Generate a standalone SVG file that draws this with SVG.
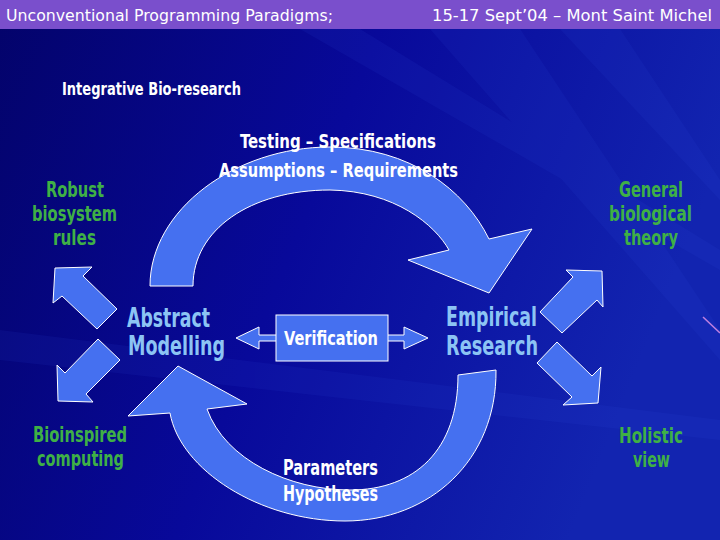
<svg xmlns="http://www.w3.org/2000/svg" width="720" height="540" viewBox="0 0 720 540">
<defs>
<linearGradient id="bg" x1="0" y1="0" x2="1" y2="0.3">
<stop offset="0" stop-color="#03036a"/>
<stop offset="0.5" stop-color="#08099a"/>
<stop offset="1" stop-color="#1224b0"/>
</linearGradient>
<style>
.arr{fill:#4570f0;stroke:#ffffff;stroke-width:1;stroke-linejoin:miter}
.t{font-family:"DejaVu Sans Condensed","DejaVu Sans",sans-serif;font-weight:bold}
.w{fill:#ffffff}
.g{fill:#3fb046;font-size:21px;text-anchor:start}
.lb{fill:#8cc4f4;font-size:26px}
.hd{font-family:"DejaVu Sans","Liberation Sans",sans-serif;font-size:15px;fill:#ffffff}
</style>
</defs>
<rect width="720" height="540" fill="url(#bg)"/>
<g id="streaks" fill="#3050e0" opacity="0.1">
<polygon points="430,29 520,29 720,330 720,360"/>
<polygon points="300,29 360,29 720,250 720,270"/>
<polygon points="0,330 720,420 720,440 0,360"/>
<polygon points="560,29 620,29 720,180 720,200"/>
</g>
<line x1="703" y1="317" x2="720" y2="333" stroke="#c080e0" stroke-width="1.5"/>
<g id="header">
<rect x="0" y="0" width="720" height="29" fill="#7a4fcc"/>
<text class="hd" x="6" y="21" textLength="327" lengthAdjust="spacingAndGlyphs">Unconventional Programming Paradigms;</text>
<text class="hd" x="432" y="21" textLength="280" lengthAdjust="spacingAndGlyphs">15-17 Sept’04 – Mont Saint Michel</text>
</g>
<g id="title">
<text class="t w" x="62" y="95" font-size="18" textLength="179" lengthAdjust="spacingAndGlyphs">Integrative Bio-research</text>
</g>
<g id="connectors">
<path id="arc-top" class="arr" d="M150,286 C150,210 235,147 330,147 C410,147 465,190 489,239 L532,229 L489,293 L408,260 L449,250 C435,225 395,191 330,190 C250,190 193,230 193,286 Z"/>
<path id="arc-bottom" class="arr" d="M496,370 C497,460 430,521 345,521 C260,521 180,470 170,413 L128,416 L178,366 L247,404 L207,409 C225,460 290,490 350,490 C415,490 458,450 458,375 Z"/>
<polygon id="arrow-verif" class="arr" points="236,338 259,327 259,335 404,335 404,327 428,338 404,349 404,341 259,341 259,349"/>
<polygon id="arrow-ul" class="arr" points="55,268 92,267 83,276 117,309 97,329 62,296 53,303"/>
<polygon id="arrow-ll" class="arr" points="98,339 120,360 86,394 93,402 58,401 57,365 65,373"/>
<polygon id="arrow-ur" class="arr" points="566,270 602,271 603,307 597,300 562,333 540,312 573,277"/>
<polygon id="arrow-lr" class="arr" points="557,342 592,376 601,367 598,403 563,405 572,397 537,363"/>
</g>
<g id="testing-label">
<text class="t w" x="240" y="148" font-size="19" textLength="196" lengthAdjust="spacingAndGlyphs">Testing – Specifications</text>
<text class="t w" x="219" y="177" font-size="19" textLength="239" lengthAdjust="spacingAndGlyphs">Assumptions – Requirements</text>
</g>
<g id="robust">
<text class="t g" x="46" y="197" textLength="58" lengthAdjust="spacingAndGlyphs">Robust</text>
<text class="t g" x="32" y="221" textLength="85" lengthAdjust="spacingAndGlyphs">biosystem</text>
<text class="t g" x="53" y="245" textLength="43" lengthAdjust="spacingAndGlyphs">rules</text>
</g>
<g id="general">
<text class="t g" x="619" y="197" textLength="64" lengthAdjust="spacingAndGlyphs">General</text>
<text class="t g" x="609" y="221" textLength="83" lengthAdjust="spacingAndGlyphs">biological</text>
<text class="t g" x="624" y="245" textLength="54" lengthAdjust="spacingAndGlyphs">theory</text>
</g>
<g id="abstract">
<text class="t lb" x="127" y="327" textLength="83" lengthAdjust="spacingAndGlyphs">Abstract</text>
<text class="t lb" x="128" y="355" textLength="97" lengthAdjust="spacingAndGlyphs">Modelling</text>
</g>
<g id="empirical">
<text class="t lb" x="446" y="326" textLength="91" lengthAdjust="spacingAndGlyphs">Empirical</text>
<text class="t lb" x="446" y="355" textLength="92" lengthAdjust="spacingAndGlyphs">Research</text>
</g>
<g id="verification">
<rect class="arr" x="276" y="315" width="112" height="46"/>
<text class="t w" x="284" y="345" font-size="20" textLength="94" lengthAdjust="spacingAndGlyphs">Verification</text>
</g>
<g id="bioinspired">
<text class="t g" x="33" y="442" textLength="94" lengthAdjust="spacingAndGlyphs">Bioinspired</text>
<text class="t g" x="37" y="466" textLength="87" lengthAdjust="spacingAndGlyphs">computing</text>
</g>
<g id="holistic">
<text class="t g" x="619" y="443" textLength="64" lengthAdjust="spacingAndGlyphs">Holistic</text>
<text class="t g" x="633" y="467" textLength="37" lengthAdjust="spacingAndGlyphs">view</text>
</g>
<g id="parameters">
<text class="t w" x="283" y="475" font-size="21" textLength="95" lengthAdjust="spacingAndGlyphs">Parameters</text>
<text class="t w" x="283" y="501" font-size="21" textLength="95" lengthAdjust="spacingAndGlyphs">Hypotheses</text>
</g>
</svg>
